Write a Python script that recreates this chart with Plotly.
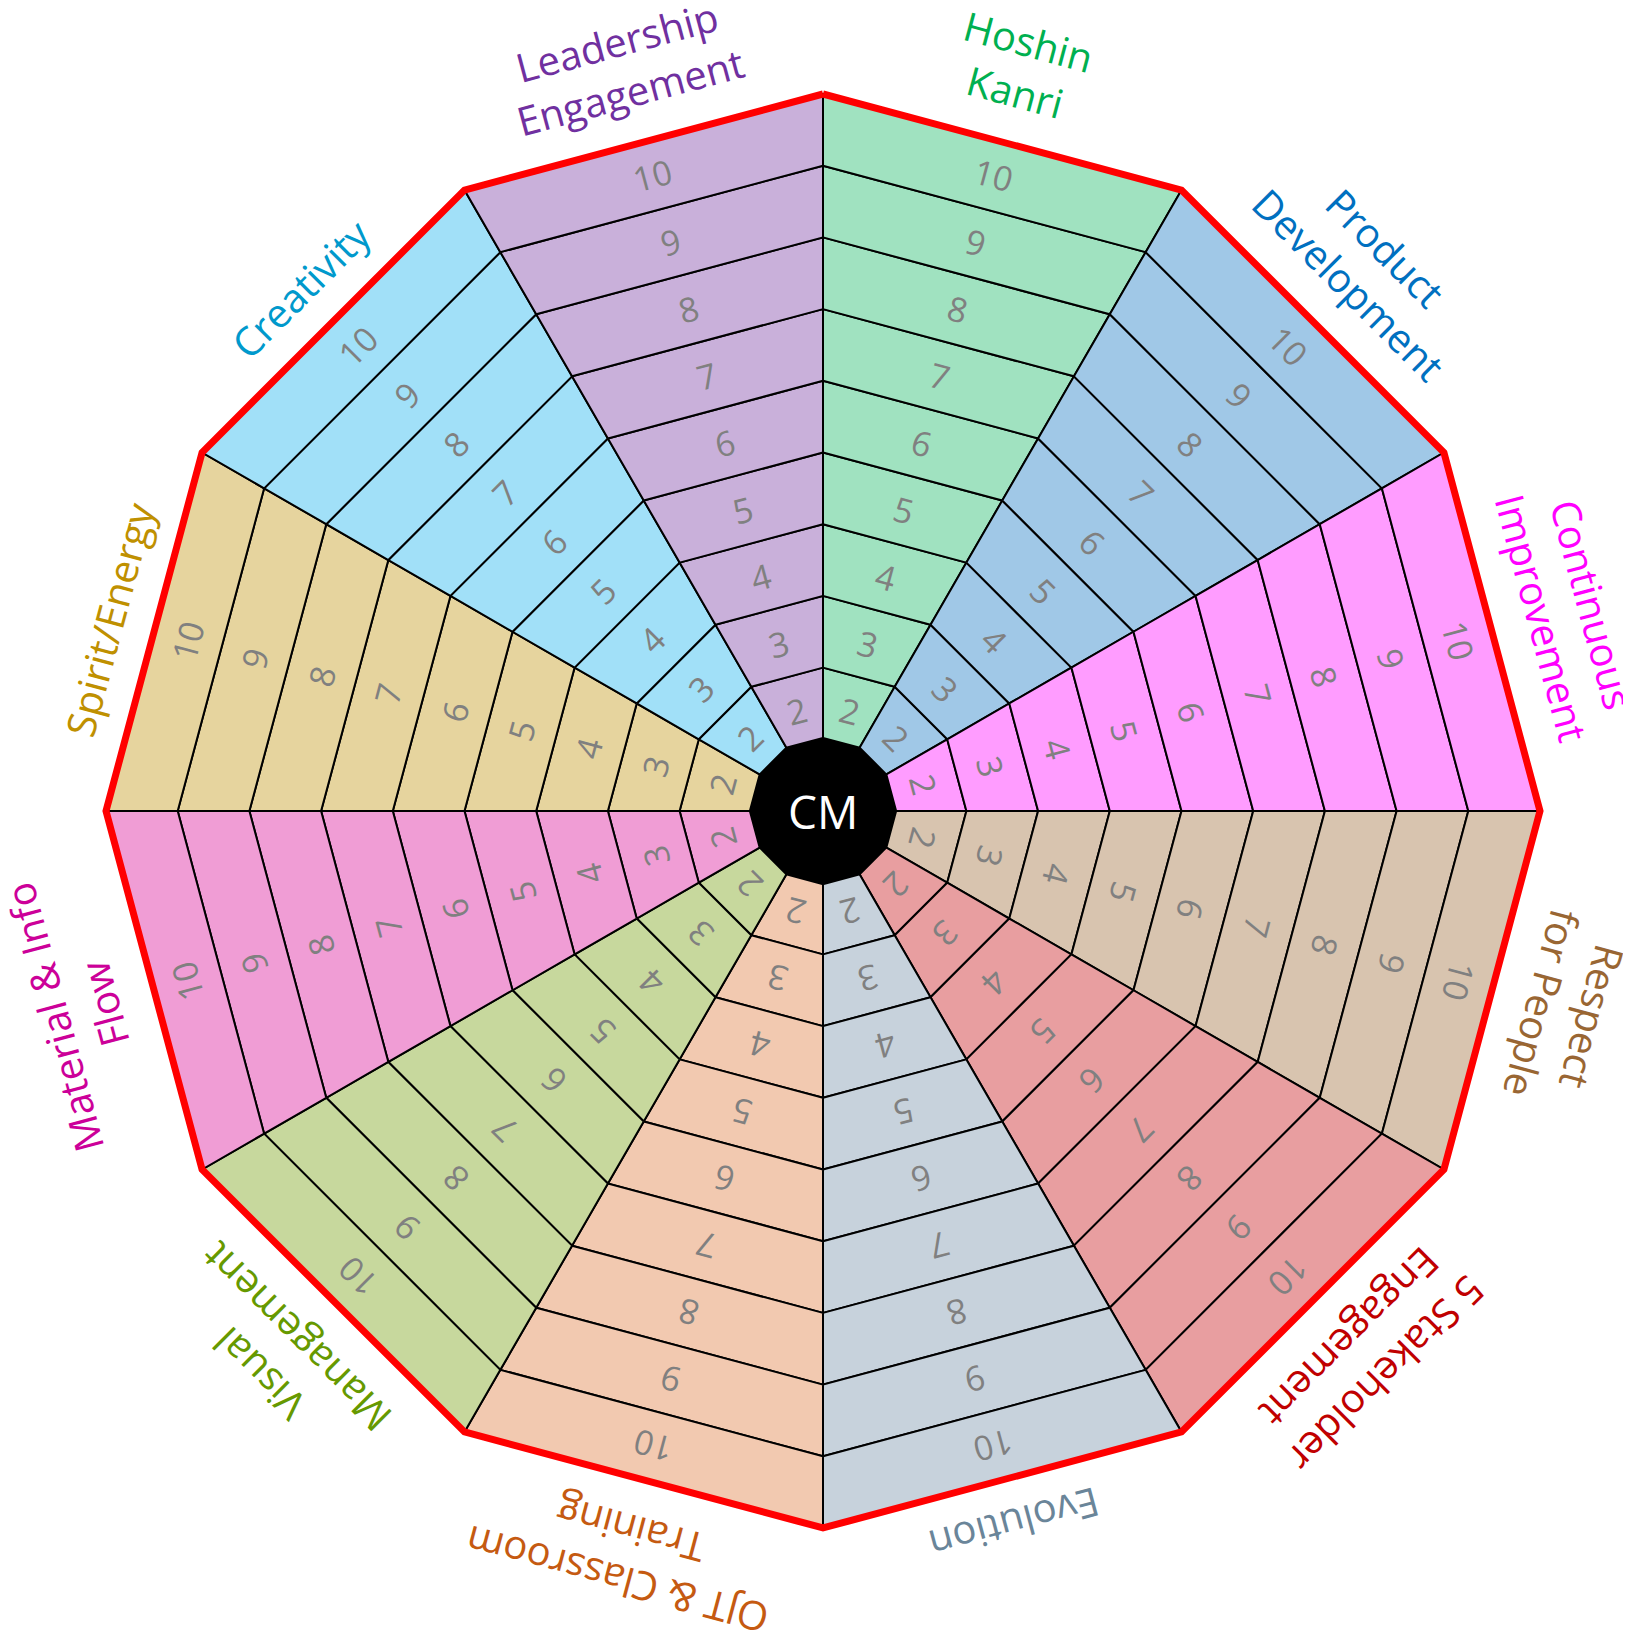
import numpy as np
import plotly.graph_objects as go

# ---------------- data ----------------
categories = [
    "Hoshin<br>Kanri", "Product<br>Development", "Continuous<br>Improvement",
    "Respect<br>for People", "5 Stakeholder<br>Engagement", "Evolution",
    "OJT & Classroom<br>Training", "Visual<br>Management", "Material & Info<br>Flow",
    "Spirit/Energy", "Creativity", "Leadership<br>Engagement",
]
sector_fills = [
    "#A0E2C0", "#A0C8E7", "#FF9CFF", "#D8C4AF", "#E89EA0", "#C7D2DC",
    "#F2C9B0", "#C7D89D", "#F09DD5", "#E6D49E", "#A1E0F8", "#C9B0DA",
]
label_colors = [
    "#00B050", "#0070C0", "#FF00FF", "#996633", "#C00000", "#6A8599",
    "#C55A11", "#669900", "#CC0099", "#BF9000", "#0099CC", "#7030A0",
]
levels = [2, 3, 4, 5, 6, 7, 8, 9, 10]
level_labels = ["2", "3", "4", "5", "6", "7", "8", "9", "10"]
center_label = "CM"

# ---------------- geometry helpers ----------------
# page has an 8px body margin, so the figure is slightly smaller than the window
W, H = 1623, 1634
CX, CY = 815, 803          # centre in figure pixels
R = 717                    # outer radius (pixels == data units)
max_level = max(levels)
step = R / max_level
n = len(categories)
span = 360 / n
font = "Open Sans, Noto Sans, sans-serif"


def pt(r, deg):
    a = np.radians(deg)
    return r * np.cos(a), r * np.sin(a)


fig = go.Figure()

# cells
for i, cat in enumerate(categories):
    a0 = 90 - span * i
    a1 = a0 - span
    for k in levels:
        r_in, r_out = (k - 1) * step, k * step
        pts = [pt(r_in, a0), pt(r_out, a0), pt(r_out, a1), pt(r_in, a1), pt(r_in, a0)]
        fig.add_trace(go.Scatter(
            x=[p[0] for p in pts], y=[p[1] for p in pts],
            mode="lines", fill="toself", fillcolor=sector_fills[i],
            line=dict(color="black", width=2), hoverinfo="skip", showlegend=False,
        ))

# outer red border
angs = [90 - span * j for j in range(n + 1)]
fig.add_trace(go.Scatter(
    x=[pt(R, a)[0] for a in angs], y=[pt(R, a)[1] for a in angs],
    mode="lines", line=dict(color="#FF0000", width=7), hoverinfo="skip", showlegend=False,
))

# centre polygon
rc = step * 1.02
fig.add_trace(go.Scatter(
    x=[pt(rc, a)[0] for a in angs], y=[pt(rc, a)[1] for a in angs],
    mode="lines", fill="toself", fillcolor="black",
    line=dict(color="black", width=2), hoverinfo="skip", showlegend=False,
))

annotations = []
apo = np.cos(np.radians(span / 2))
for i, cat in enumerate(categories):
    mid = 90 - span * i - span / 2
    ang = 90 - mid
    # level numbers
    for k, lab in zip(levels, level_labels):
        x, y = pt((k - 0.5) * step * apo, mid)
        annotations.append(dict(
            x=x, y=y, text=lab, showarrow=False, textangle=ang,
            font=dict(family=font, size=34, color="#808080"),
            xanchor="center", yanchor="middle",
        ))
    # category label
    nlines = cat.count("<br>") + 1
    rr = R * apo + 20 + 26 * nlines + (6 if nlines > 1 else 0)
    x, y = pt(rr, mid)
    annotations.append(dict(
        x=x, y=y, text=cat, showarrow=False, textangle=ang,
        font=dict(family=font, size=40, color=label_colors[i]),
        xanchor="center", yanchor="middle", align="center",
    ))

annotations.append(dict(
    x=0, y=0, text=center_label, showarrow=False,
    font=dict(family=font, size=46, color="white"),
    xanchor="center", yanchor="middle",
))

fig.update_layout(
    width=W, height=H,
    margin=dict(l=0, r=0, t=0, b=0),
    paper_bgcolor="white", plot_bgcolor="white",
    xaxis=dict(range=[-CX, W - CX], visible=False, fixedrange=True),
    yaxis=dict(range=[-(H - CY), CY], visible=False, fixedrange=True),
    annotations=annotations,
    showlegend=False,
)

fig.write_html("out.html")
